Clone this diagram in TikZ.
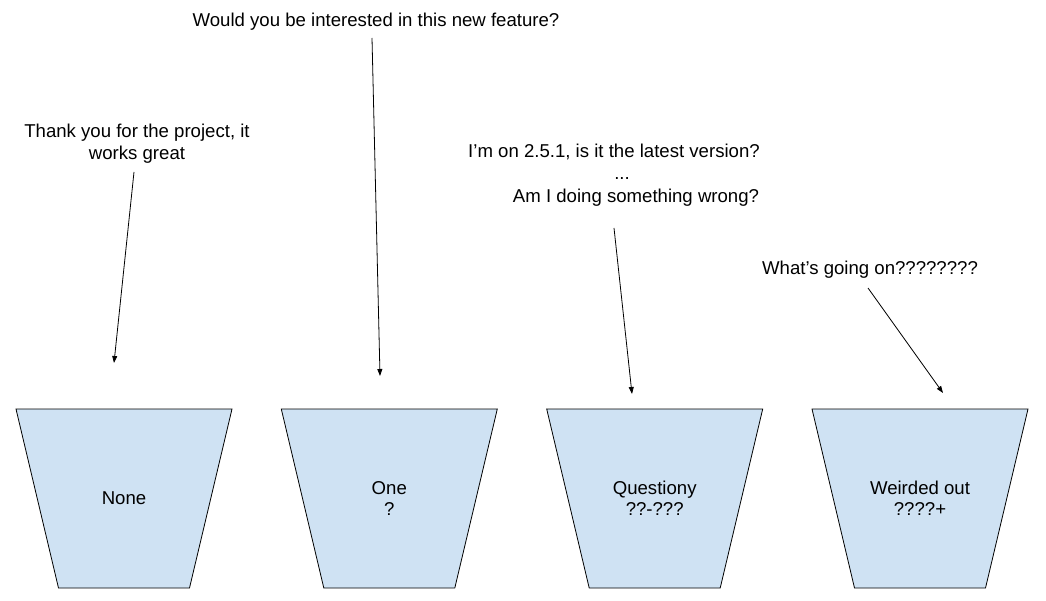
\documentclass[tikz,border=0pt]{standalone}
\usepackage{fontspec}
\setmainfont{Liberation Sans}
\usetikzlibrary{positioning}
\usetikzlibrary{arrows.meta}
\definecolor{bucketblue}{HTML}{CFE2F3}
\tikzset{
	every node/.style={align=center,inner sep=0pt},
	remark/.style={font=\fontsize{18.6}{22.5}\selectfont},
	bucket/.style={draw, fill=bucketblue, line width=0.8pt},
	bucket text/.style={font=\fontsize{18.6}{21}\selectfont},
	hint/.style={-{Triangle[length=7pt,width=5pt]}, line width=0.8pt}
}

\begin{document}
\begin{tikzpicture}[x=1pt,y=-1pt]
	\useasboundingbox (0,0) rectangle (1046,601);
	% Remarks
	\node[remark] (feature) at (376,21.5) {Would you be interested in this new feature?};
	\node[remark] (thanks) at (137,143.5) {Thank you for the project, it\\works great};
	\node[remark] (version) at (614,175) {I’m on 2.5.1, is it the latest version?\\\hspace*{16pt}...\\\hspace*{44pt}Am I doing something wrong?};
	\node[remark] (going) at (870,270) {What’s going on????????};
	
	% Buckets
	\draw[bucket] (16,409) -- ++(216,0) -- ++(-42.5,179) -- ++(-131,0) -- cycle;
	\draw[bucket] (281.3,409) -- ++(216,0) -- ++(-42.5,179) -- ++(-131,0) -- cycle;
	\draw[bucket] (546.7,409) -- ++(216,0) -- ++(-42.5,179) -- ++(-131,0) -- cycle;
	\draw[bucket] (812,409) -- ++(216,0) -- ++(-42.5,179) -- ++(-131,0) -- cycle;
	
	\node[bucket text] (none) at (124,498.5) {None};
	\node[bucket text] (one) at (389.3,498.5) {One\\?};
	\node[bucket text] (questiony) at (654.7,498.5) {Questiony\\??-???};
	\node[bucket text] (weirded) at (920,498.5) {Weirded out\\????+};
	
	% Arrow ends
	\coordinate (thanks from) at (134,172);
	\coordinate (thanks to) at (114,363);
	\coordinate (feature from) at (372,38);
	\coordinate (feature to) at (380,376);
	\coordinate (version from) at (614,228);
	\coordinate (version to) at (632,394);
	\coordinate (going from) at (868,288);
	\coordinate (going to) at (943,393);
	
	\draw[hint] (thanks from) -- (thanks to);
	\draw[hint] (feature from) -- (feature to);
	\draw[hint] (version from) -- (version to);
	\draw[hint] (going from) -- (going to);
\end{tikzpicture}
\end{document}
